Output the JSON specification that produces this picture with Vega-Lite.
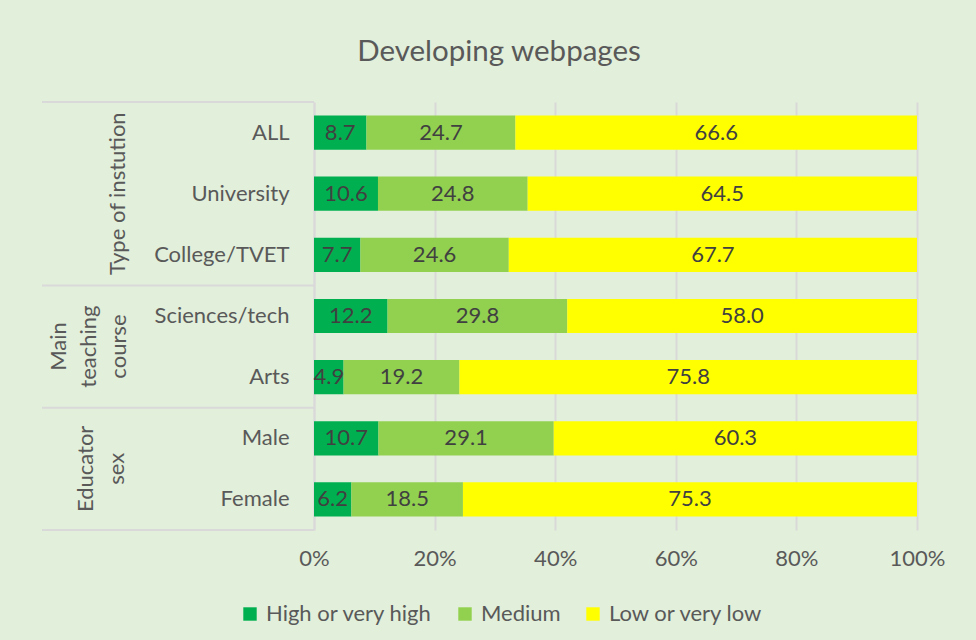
{
  "$schema": "https://vega.github.io/schema/vega-lite/v6.json",
  "background": "#E2EFDA",
  "padding": {"left": 41, "top": 36, "right": 60, "bottom": 19},
  "title": {"text": "Developing webpages", "fontSize": 29.5, "font": "Lato", "fontWeight": "normal", "color": "#595959", "offset": 34, "anchor": "middle", "frame": "bounds", "dx": 6},
  "datasets": {
    "shares": [
      {"group": "Type of instution", "category": "ALL", "level": "High or very high", "value": 8.7},
      {"group": "Type of instution", "category": "ALL", "level": "Medium", "value": 24.7},
      {"group": "Type of instution", "category": "ALL", "level": "Low or very low", "value": 66.6},
      {"group": "Type of instution", "category": "University", "level": "High or very high", "value": 10.6},
      {"group": "Type of instution", "category": "University", "level": "Medium", "value": 24.8},
      {"group": "Type of instution", "category": "University", "level": "Low or very low", "value": 64.5},
      {"group": "Type of instution", "category": "College/TVET", "level": "High or very high", "value": 7.7},
      {"group": "Type of instution", "category": "College/TVET", "level": "Medium", "value": 24.6},
      {"group": "Type of instution", "category": "College/TVET", "level": "Low or very low", "value": 67.7},
      {"group": "Main teaching course", "category": "Sciences/tech", "level": "High or very high", "value": 12.2},
      {"group": "Main teaching course", "category": "Sciences/tech", "level": "Medium", "value": 29.8},
      {"group": "Main teaching course", "category": "Sciences/tech", "level": "Low or very low", "value": 58.0},
      {"group": "Main teaching course", "category": "Arts", "level": "High or very high", "value": 4.9},
      {"group": "Main teaching course", "category": "Arts", "level": "Medium", "value": 19.2},
      {"group": "Main teaching course", "category": "Arts", "level": "Low or very low", "value": 75.8},
      {"group": "Educator sex", "category": "Male", "level": "High or very high", "value": 10.7},
      {"group": "Educator sex", "category": "Male", "level": "Medium", "value": 29.1},
      {"group": "Educator sex", "category": "Male", "level": "Low or very low", "value": 60.3},
      {"group": "Educator sex", "category": "Female", "level": "High or very high", "value": 6.2},
      {"group": "Educator sex", "category": "Female", "level": "Medium", "value": 18.5},
      {"group": "Educator sex", "category": "Female", "level": "Low or very low", "value": 75.3}
    ]
  },
  "spacing": 0,
  "bounds": "flush",
  "resolve": {"scale": {"y": "independent"}},
  "hconcat": [
    {
      "width": 272,
      "height": 428,
      "layer": [
        {
          "data": {"values": [{"cat": "ALL"}, {"cat": "Sciences/tech"}, {"cat": "Male"}]},
          "mark": {"type": "rule", "color": "#D9D9D9", "strokeWidth": 2},
          "encoding": {"y": {"field": "cat", "type": "nominal", "bandPosition": 0, "axis": null,
            "scale": {"domain": ["ALL", "University", "College/TVET", "Sciences/tech", "Arts", "Male", "Female"], "paddingInner": 0, "paddingOuter": 0}}}
        },
        {
          "data": {"values": [{"cat": "Female"}]},
          "mark": {"type": "rule", "color": "#D9D9D9", "strokeWidth": 2},
          "encoding": {"y": {"field": "cat", "type": "nominal", "bandPosition": 1, "axis": null}}
        },
        {
          "data": {"values": [{"cat": "University", "name": ["Type of instution"]}]},
          "mark": {"type": "text", "angle": 270, "align": "center", "baseline": "alphabetic", "dy": -53, "fontSize": 22, "lineHeight": 30, "color": "#595959"},
          "encoding": {"y": {"field": "cat", "type": "nominal", "bandPosition": 0.5, "axis": null}, "text": {"field": "name"}}
        },
        {
          "data": {"values": [{"cat": "Sciences/tech", "name": ["Main", "teaching", "course"]}]},
          "mark": {"type": "text", "angle": 270, "align": "center", "baseline": "alphabetic", "dy": -112, "fontSize": 22, "lineHeight": 30, "color": "#595959"},
          "encoding": {"y": {"field": "cat", "type": "nominal", "bandPosition": 1, "axis": null}, "text": {"field": "name"}}
        },
        {
          "data": {"values": [{"cat": "Male", "name": ["Educator", "sex"]}]},
          "mark": {"type": "text", "angle": 270, "align": "center", "baseline": "alphabetic", "dy": -85, "fontSize": 22, "lineHeight": 31, "color": "#595959"},
          "encoding": {"y": {"field": "cat", "type": "nominal", "bandPosition": 1, "axis": null}, "text": {"field": "name"}}
        }
      ]
    },
    {
      "width": 603,
      "height": 428,
      "data": {"name": "shares"},
      "transform": [
        {"calculate": "indexof(['High or very high', 'Medium', 'Low or very low'], datum.level)", "as": "rank"},
        {"stack": "value", "groupby": ["category"], "sort": [{"field": "rank", "order": "ascending"}], "offset": "normalize", "as": ["v0", "v1"]},
        {"calculate": "(datum.v0 + datum.v1) / 2", "as": "mid"}
      ],
      "encoding": {
        "y": {"field": "category", "type": "nominal",
          "sort": ["ALL", "University", "College/TVET", "Sciences/tech", "Arts", "Male", "Female"],
          "scale": {"paddingInner": 0.44, "paddingOuter": 0.22},
          "axis": {"title": null, "ticks": false, "domain": true, "domainColor": "#D9D9D9", "domainWidth": 2, "labelFontSize": 22, "labelColor": "#595959", "labelPadding": 25, "labelLimit": 300}}
      },
      "layer": [
        {
          "mark": {"type": "bar"},
          "encoding": {
            "x": {"field": "v0", "type": "quantitative", "scale": {"domain": [0, 1]},
              "axis": {"title": null, "values": [0, 0.2, 0.4, 0.6, 0.8, 1], "format": ".0%", "domain": false, "ticks": false, "grid": true, "gridColor": "#D9D9D9", "gridWidth": 2, "labelFontSize": 22, "labelColor": "#595959", "labelPadding": 18, "labelFlush": false, "labelOverlap": false}},
            "x2": {"field": "v1"},
            "color": {"field": "level", "type": "nominal",
              "scale": {"domain": ["High or very high", "Medium", "Low or very low"], "range": ["#00B050", "#92D050", "#FFFF00"]},
              "legend": {"title": null, "orient": "none", "legendX": 197, "legendY": 501, "direction": "horizontal", "symbolType": "square", "symbolSize": 180, "symbolStrokeWidth": 0, "labelFontSize": 22, "labelColor": "#595959", "labelLimit": 400, "columnPadding": 21, "labelOffset": 5}}
          }
        },
        {
          "mark": {"type": "text", "color": "#404040", "fontSize": 22},
          "encoding": {
            "x": {"field": "mid", "type": "quantitative"},
            "text": {"field": "value", "type": "quantitative", "format": ".1f"}
          }
        }
      ]
    }
  ],
  "config": {"view": {"stroke": null}, "font": "Lato"}
}
